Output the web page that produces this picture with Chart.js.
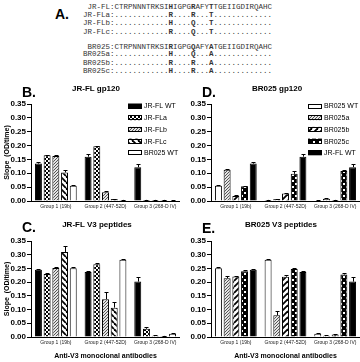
<!DOCTYPE html>
<html lang="en">
<head>
<meta charset="UTF-8">
<title>V3 binding</title>
<script src="https://cdn.jsdelivr.net/npm/chart.js"></script>
<style>
    body { margin: 0; background: #fff; }
    #fig { position: relative; width: 360px; height: 362px; overflow: hidden; font-family: "Liberation Sans", Arial, sans-serif; }
    #fig canvas { position: absolute; }
    .txt { position: absolute; white-space: nowrap; color: #000; }
    .seq { position: absolute; left: 83px; font-family: "Liberation Mono", monospace; font-size: 7.5px; line-height: 8px; white-space: pre; color: #333; }
    .ttl { font-weight: bold; font-size: 8px; line-height: 8px; text-align: center; width: 120px; }
    .let { font-weight: bold; font-size: 14px; line-height: 14px; }
</style>
</head>
<body>
<div id="fig">
    <div class="txt let" style="left:55px;top:7px;">A.</div>
    <div class="seq" style="top:3px;"> JR-FL:CTRPNNNTRKSI<b>H</b>IGPG<b>R</b>AFY<b>T</b>TGEIIGDIRQAHC</div>
    <div class="seq" style="top:11px;">JR-FLa:............<b>R</b>....<b>R</b>...<b>T</b>.............</div>
    <div class="seq" style="top:19px;">JR-FLb:............<b>H</b>....<b>Q</b>...<b>T</b>.............</div>
    <div class="seq" style="top:28px;">JR-FLc:............<b>R</b>....<b>Q</b>...<b>T</b>.............</div>
    <div class="seq" style="top:43px;"> BR025:CTRPNNNTRKSI<b>R</b>IGPG<b>Q</b>AFY<b>A</b>TGEIIGDIRQAHC</div>
    <div class="seq" style="top:50px;">BR025a:............<b>H</b>....<b>Q</b>...<b>A</b>.............</div>
    <div class="seq" style="top:59px;">BR025b:............<b>R</b>....<b>R</b>...<b>A</b>.............</div>
    <div class="seq" style="top:67px;">BR025c:............<b>H</b>....<b>R</b>...<b>A</b>.............</div>

    <canvas id="chartB" width="180" height="135" style="left:0;top:80px;"></canvas>
    <canvas id="chartD" width="180" height="135" style="left:180px;top:80px;"></canvas>
    <canvas id="chartC" width="180" height="147" style="left:0;top:215px;"></canvas>
    <canvas id="chartE" width="180" height="147" style="left:180px;top:215px;"></canvas>

    <div class="txt let" style="left:22px;top:85px;">B.</div>
    <div class="txt let" style="left:202px;top:85px;">D.</div>
    <div class="txt let" style="left:22px;top:220px;">C.</div>
    <div class="txt let" style="left:202px;top:221px;">E.</div>
    <div class="txt ttl" style="left:36px;top:85px;">JR-FL gp120</div>
    <div class="txt ttl" style="left:217px;top:85px;">BR025 gp120</div>
    <div class="txt ttl" style="left:37px;top:221px;">JR-FL V3 peptides</div>
    <div class="txt ttl" style="left:221px;top:221px;">BR025 V3 peptides</div>
</div>

<script>
    // ---- data ----
    const groups = ['Group 1 (19b)', 'Group 2 (447-52D)', 'Group 3 (268-D IV)'];
    const yTicks = [0, 0.05, 0.10, 0.15, 0.20, 0.25, 0.30, 0.35];

    // gp120 binding
    const jrflWT_gp  = [0.135, 0.160, 0.122];
    const jrflWT_gpErr = [0.004, 0.010, 0.012];
    const jrflA_gp   = [0.165, 0.198, 0.004];
    const jrflA_gpErr = [0.002, 0.002, 0.001];
    const jrflB_gp   = [0.162, 0.032, 0.004];
    const jrflB_gpErr = [0.003, 0.004, 0.001];
    const jrflC_gp   = [0.103, 0.007, 0.004];
    const jrflC_gpErr = [0.008, 0.001, 0.001];
    const br025WT_gp = [0.055, 0.004, 0.002];
    const br025WT_gpErr = [0.002, 0.001, 0.001];
    const br025A_gp  = [0.113, 0.007, 0.008];
    const br025A_gpErr = [0.002, 0.001, 0.002];
    const br025B_gp  = [0.018, 0.027, 0.004];
    const br025B_gpErr = [0.002, 0.002, 0.001];
    const br025C_gp  = [0.053, 0.098, 0.108];
    const br025C_gpErr = [0.002, 0.010, 0.004];

    // V3 peptide binding
    const jrflWT_v3  = [0.245, 0.237, 0.202];
    const jrflWT_v3Err = [0.004, 0.005, 0.018];
    const jrflA_v3   = [0.230, 0.265, 0.030];
    const jrflA_v3Err = [0.003, 0.005, 0.006];
    const jrflB_v3   = [0.252, 0.138, 0.005];
    const jrflB_v3Err = [0.002, 0.025, 0.001];
    const jrflC_v3   = [0.310, 0.107, 0.004];
    const jrflC_v3Err = [0.020, 0.020, 0.001];
    const br025WT_v3 = [0.251, 0.282, 0.012];
    const br025WT_v3Err = [0.003, 0.004, 0.002];
    const br025A_v3  = [0.214, 0.079, 0.005];
    const br025A_v3Err = [0.010, 0.015, 0.001];
    const br025B_v3  = [0.221, 0.220, 0.009];
    const br025B_v3Err = [0.003, 0.005, 0.002];
    const br025C_v3  = [0.240, 0.248, 0.228];
    const br025C_v3Err = [0.003, 0.003, 0.006];

    const FONT = "'Liberation Sans', Arial, sans-serif";

    // ---- fill patterns ----
    function makePattern(kind) {
        if (kind === 'black') return '#000';
        if (kind === 'white') return '#fff';
        const c = document.createElement('canvas');
        const g = c.getContext('2d');
        if (kind === 'checker') {
            c.width = c.height = 4;
            g.fillStyle = '#000'; g.fillRect(0, 0, 4, 4);
            g.fillStyle = '#fff'; g.fillRect(0, 0, 2, 2); g.fillRect(2, 2, 2, 2);
        } else if (kind === 'fine') {
            c.width = c.height = 3;
            g.fillStyle = '#e4e4e4'; g.fillRect(0, 0, 3, 3);
            g.fillStyle = '#555';
            g.fillRect(0, 2, 1, 1); g.fillRect(1, 1, 1, 1); g.fillRect(2, 0, 1, 1);
        } else if (kind === 'back' || kind === 'fwd') {
            c.width = c.height = 6;
            g.fillStyle = '#fff'; g.fillRect(0, 0, 6, 6);
            g.strokeStyle = '#000'; g.lineWidth = 1.8;
            for (const o of [-6, 0, 6]) {
                g.beginPath();
                if (kind === 'back') { g.moveTo(o, 0); g.lineTo(o + 6, 6); }
                else { g.moveTo(o, 6); g.lineTo(o + 6, 0); }
                g.stroke();
            }
        } else if (kind === 'dots') {
            c.width = c.height = 6;
            g.fillStyle = '#000'; g.fillRect(0, 0, 6, 6);
            g.fillStyle = '#fff'; g.fillRect(1, 1, 2, 2); g.fillRect(4, 4, 2, 2);
        }
        return g.createPattern(c, 'repeat');
    }

    // error bars (upper half only)
    const errorBars = {
        id: 'errorBars',
        afterDatasetsDraw(chart) {
            const ctx = chart.ctx;
            const y = chart.scales.y;
            ctx.save();
            ctx.strokeStyle = '#000';
            ctx.lineWidth = 1;
            chart.data.datasets.forEach((ds, i) => {
                const meta = chart.getDatasetMeta(i);
                meta.data.forEach((bar, j) => {
                    const e = ds.err[j];
                    if (!e) return;
                    const y0 = y.getPixelForValue(ds.data[j]);
                    const y1 = Math.round(y.getPixelForValue(ds.data[j] + e)) + 0.5;
                    const x = Math.round(bar.x) + 0.5;
                    ctx.beginPath();
                    ctx.moveTo(x, y0); ctx.lineTo(x, y1);
                    ctx.moveTo(x - 2, y1); ctx.lineTo(x + 2, y1);
                    ctx.stroke();
                });
            });
            ctx.restore();
        }
    };

    // legend drawn inside the plot, top right
    const boxLegend = {
        id: 'boxLegend',
        afterDraw(chart) {
            const ctx = chart.ctx;
            ctx.save();
            ctx.font = '7px ' + FONT;
            ctx.textBaseline = 'middle';
            chart.data.datasets.forEach((ds, i) => {
                const cy = 26 + i * 11.7;
                ctx.fillStyle = ds.backgroundColor;
                ctx.fillRect(128, cy - 2.5, 14, 5);
                ctx.strokeStyle = '#000';
                ctx.lineWidth = 1;
                ctx.strokeRect(128.5, Math.round(cy - 2.5) + 0.5, 13, 4);
                ctx.fillStyle = '#000';
                ctx.fillText(ds.label, 144, cy + 0.5);
            });
            ctx.restore();
        }
    };

    function makePanel(id, series, withLegend, withYTitle, padTop, xHeight, xTitle) {
        const ctx = document.getElementById(id).getContext('2d');
        return new Chart(ctx, {
            type: 'bar',
            data: {
                labels: groups,
                datasets: series.map(s => ({
                    label: s[0],
                    data: s[1],
                    err: s[2],
                    backgroundColor: makePattern(s[3]),
                    borderColor: '#000',
                    borderWidth: 1,
                    barPercentage: 0.8,
                    categoryPercentage: 0.876
                }))
            },
            options: {
                responsive: false,
                animation: false,
                layout: { padding: { top: padTop, right: 0, bottom: 0, left: 0 } },
                plugins: { legend: { display: false }, tooltip: { enabled: false } },
                scales: {
                    x: {
                        ticks: { font: { size: 5, family: FONT }, color: '#222', padding: 3, maxRotation: 0, autoSkip: false },
                        grid: { display: false, drawTicks: false, tickLength: 0 },
                        border: { color: '#000', width: 1 },
                        title: {
                            display: !!xTitle,
                            text: xTitle || '',
                            color: '#000',
                            font: { size: 7, weight: 'bold', family: FONT },
                            padding: { top: 0, bottom: 2 }
                        },
                        afterFit: s => { s.height = xHeight; }
                    },
                    y: {
                        min: 0,
                        max: 0.35,
                        afterBuildTicks: s => { s.ticks = yTicks.map(v => ({ value: v })); },
                        ticks: {
                            font: { size: 8, weight: 'bold', family: FONT },
                            color: '#000',
                            padding: 1,
                            callback: v => v.toFixed(2)
                        },
                        grid: { drawOnChartArea: false, drawTicks: true, tickLength: 4, color: '#000' },
                        border: { color: '#000', width: 1 },
                        title: {
                            display: withYTitle,
                            text: 'Slope  (OD/time)',
                            color: '#000',
                            font: { size: 7, weight: 'bold', family: FONT },
                            padding: { top: 3, bottom: 0 }
                        },
                        afterFit: s => { s.width = 31; }
                    }
                }
            },
            plugins: withLegend ? [errorBars, boxLegend] : [errorBars]
        });
    }

    makePanel('chartB', [
        ['JR-FL WT', jrflWT_gp, jrflWT_gpErr, 'black'],
        ['JR-FLa', jrflA_gp, jrflA_gpErr, 'checker'],
        ['JR-FLb', jrflB_gp, jrflB_gpErr, 'fine'],
        ['JR-FLc', jrflC_gp, jrflC_gpErr, 'back'],
        ['BR025 WT', br025WT_gp, br025WT_gpErr, 'white']
    ], true, true, 24, 14, null);

    makePanel('chartD', [
        ['BR025 WT', br025WT_gp, br025WT_gpErr, 'white'],
        ['BR025a', br025A_gp, br025A_gpErr, 'fine'],
        ['BR025b', br025B_gp, br025B_gpErr, 'fwd'],
        ['BR025c', br025C_gp, br025C_gpErr, 'dots'],
        ['JR-FL WT', jrflWT_gp, jrflWT_gpErr, 'black']
    ], true, false, 24, 14, null);

    makePanel('chartC', [
        ['JR-FL WT', jrflWT_v3, jrflWT_v3Err, 'black'],
        ['JR-FLa', jrflA_v3, jrflA_v3Err, 'checker'],
        ['JR-FLb', jrflB_v3, jrflB_v3Err, 'fine'],
        ['JR-FLc', jrflC_v3, jrflC_v3Err, 'back'],
        ['BR025 WT', br025WT_v3, br025WT_v3Err, 'white']
    ], false, true, 26, 25, 'Anti-V3 monoclonal antibodies');

    makePanel('chartE', [
        ['BR025 WT', br025WT_v3, br025WT_v3Err, 'white'],
        ['BR025a', br025A_v3, br025A_v3Err, 'fine'],
        ['BR025b', br025B_v3, br025B_v3Err, 'fwd'],
        ['BR025c', br025C_v3, br025C_v3Err, 'dots'],
        ['JR-FL WT', jrflWT_v3, jrflWT_v3Err, 'black']
    ], false, false, 26, 25, 'Anti-V3 monoclonal antibodies');
</script>
</body>
</html>
